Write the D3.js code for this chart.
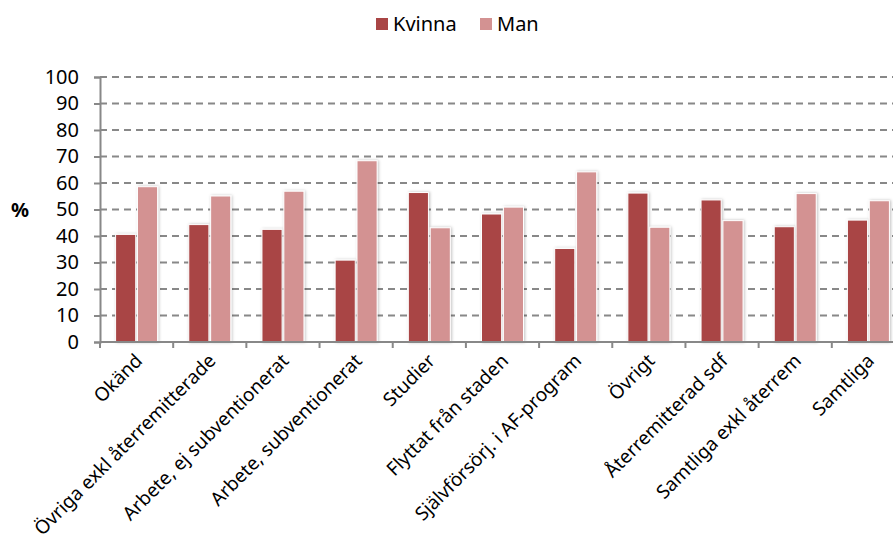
<!DOCTYPE html>
<html>
<head>
<meta charset="utf-8">
<script src="https://cdn.jsdelivr.net/npm/d3@7"></script>
<style>
  body { margin: 0; background: #fff; }
  text { font-family: "Noto Sans", sans-serif; fill: #000; }
</style>
</head>
<body>
<svg id="chart"></svg>
<script>
const categories = ['Okänd', 'Övriga exkl återremitterade', 'Arbete, ej subventionerat', 'Arbete, subventionerat',
    'Studier', 'Flyttat från staden', 'Självförsörj. i AF-program', 'Övrigt', 'Återremitterad sdf',
    'Samtliga exkl återrem', 'Samtliga'];
const series = ['Kvinna', 'Man'];
const kvinna = [40.6, 44.3, 42.5, 30.9, 56.4, 48.3, 35.3, 56.2, 53.6, 43.5, 46.0];
const man = [58.6, 55.1, 56.9, 68.4, 43.1, 50.9, 64.2, 43.3, 45.8, 56.0, 53.3];
const yticks = [0, 10, 20, 30, 40, 50, 60, 70, 80, 90, 100];

const width = 893, height = 534;
const margin = { top: 77, right: -12, bottom: 192, left: 100 };
const colors = ['#a94545', '#d39292'];

const svg = d3.select('#chart')
    .attr('width', width)
    .attr('height', height);

const inner_width = width - margin.left - margin.right;
const inner_height = height - margin.top - margin.bottom;

const chart = svg.append('g')
    .attr('transform', `translate(${margin.left}, ${margin.top})`);

const xscale = d3.scaleBand()
    .domain(categories)
    .range([0, inner_width]);

const xinner = d3.scaleBand()
    .domain(series)
    .range([0, 42])
    .paddingInner(0.08);

const yscale = d3.scaleLinear()
    .domain([0, 100])
    .range([inner_height, 0]);

const defs = svg.append('defs');
const shadow = defs.append('filter').attr('id', 'shadow')
    .attr('x', '-30%').attr('y', '-10%').attr('width', '160%').attr('height', '120%');
shadow.append('feDropShadow')
    .attr('dx', 1).attr('dy', 0).attr('stdDeviation', 1.5)
    .attr('flood-color', '#000').attr('flood-opacity', 0.25);

// grid
chart.append('g')
    .selectAll('line')
    .data(yticks.filter(d => d > 0))
    .join('line')
    .attr('x1', 0)
    .attr('x2', inner_width)
    .attr('y1', d => yscale(d))
    .attr('y2', d => yscale(d))
    .attr('stroke', '#888')
    .attr('stroke-width', 2)
    .attr('stroke-dasharray', '7,5');

// y axis
const yaxis = d3.axisLeft(yscale)
    .tickValues(yticks)
    .tickSize(6)
    .tickPadding(15);

const yaxis_group = chart.append('g').call(yaxis);
yaxis_group.select('.domain').attr('stroke', '#888').attr('stroke-width', 2);
yaxis_group.selectAll('.tick line').attr('stroke', '#888').attr('stroke-width', 2);
yaxis_group.selectAll('.tick text')
    .style('font-size', '20px')
    .style('font-family', '"Noto Sans", sans-serif')
    .attr('fill', '#000');

// bars
const groups = chart.append('g')
    .selectAll('g')
    .data(categories.map((c, i) => ({ cat: c, vals: [kvinna[i], man[i]] })))
    .join('g')
    .attr('transform', d => `translate(${xscale(d.cat) + (xscale.bandwidth() - 42) / 2}, 0)`);

groups.selectAll('rect')
    .data(d => d.vals.map((v, j) => ({ s: series[j], v: v, j: j })))
    .join('rect')
    .attr('x', d => xinner(d.s))
    .attr('width', xinner.bandwidth())
    .attr('y', d => yscale(d.v))
    .attr('height', d => inner_height - yscale(d.v))
    .attr('fill', d => colors[d.j])
    .attr('stroke', '#fff')
    .attr('stroke-width', 1)
    .attr('filter', 'url(#shadow)');

// x axis
const xaxis_group = chart.append('g')
    .attr('transform', `translate(0, ${inner_height})`);

xaxis_group.append('line')
    .attr('x1', 0).attr('x2', inner_width)
    .attr('stroke', '#888').attr('stroke-width', 2);

xaxis_group.selectAll('.xtick')
    .data(categories)
    .join('line')
    .attr('class', 'xtick')
    .attr('x1', d => xscale(d))
    .attr('x2', d => xscale(d))
    .attr('y1', 0).attr('y2', 6)
    .attr('stroke', '#888').attr('stroke-width', 2);

xaxis_group.selectAll('.xlabel')
    .data(categories)
    .join('text')
    .attr('class', 'xlabel')
    .attr('transform', d => `translate(${xscale(d) + xscale.bandwidth() / 2 + 7}, 20) rotate(-45)`)
    .attr('text-anchor', 'end')
    .style('font-size', '19px')
    .text(d => d);

// y label
svg.append('text')
    .attr('x', 20)
    .attr('y', margin.top + yscale(50))
    .attr('dy', '0.35em')
    .attr('text-anchor', 'middle')
    .style('font-size', '20px')
    .style('font-weight', 'bold')
    .text('%');

// legend
const legend = svg.append('g')
    .attr('transform', 'translate(376, 24)');

const litems = legend.selectAll('g')
    .data(series)
    .join('g')
    .attr('transform', (d, i) => `translate(${i * 104}, 0)`);

litems.append('rect')
    .attr('x', 0).attr('y', -6)
    .attr('width', 12).attr('height', 12)
    .attr('fill', (d, i) => colors[i]);

litems.append('text')
    .attr('x', 17)
    .attr('dy', '0.35em')
    .style('font-size', '20px')
    .text(d => d);
</script>
</body>
</html>
